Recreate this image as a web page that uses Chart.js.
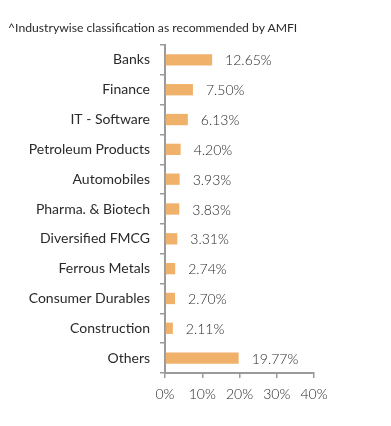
<!DOCTYPE html>
<html>
<head>
<meta charset="utf-8">
<script src="https://cdn.jsdelivr.net/npm/chart.js@4.4.1/dist/chart.umd.min.js"></script>
<style>
  html, body { margin: 0; padding: 0; background: #fff; }
  #wrap { position: relative; width: 391px; height: 426px; }
  #note {
    position: absolute; left: 8px; top: 20px;
    font: 12.2px Lato, sans-serif; color: #2a2a2a; white-space: nowrap;
  }
</style>
</head>
<body>
<div id="wrap">
  <div id="note">^Industrywise classification as recommended by AMFI</div>
  <canvas id="chart" width="391" height="426"></canvas>
</div>
<script>
// Sector weights (%)
const industries = [
  'Banks', 'Finance', 'IT - Software', 'Petroleum Products', 'Automobiles',
  'Pharma. & Biotech', 'Diversified FMCG', 'Ferrous Metals',
  'Consumer Durables', 'Construction', 'Others'
];
const weights = [12.65, 7.50, 6.13, 4.20, 3.93, 3.83, 3.31, 2.74, 2.70, 2.11, 19.77];
const xTicks = [0, 10, 20, 30, 40];

const axisGrey = '#9a9a9a';
const textColor = '#2a2a2a';

// Percent labels just past the end of each bar
const valueLabels = {
  id: 'valueLabels',
  afterDatasetsDraw(chart) {
    const { ctx } = chart;
    const meta = chart.getDatasetMeta(0);
    ctx.save();
    ctx.font = '300 14px Lato, sans-serif';
    ctx.fillStyle = textColor;
    ctx.textBaseline = 'middle';
    meta.data.forEach((bar, i) => {
      ctx.fillText(weights[i].toFixed(2) + '%', bar.x + 13, bar.y + 1);
    });
    ctx.restore();
  }
};

new Chart(document.getElementById('chart'), {
  type: 'bar',
  plugins: [valueLabels],
  data: {
    labels: industries,
    datasets: [{
      data: weights,
      backgroundColor: '#f0b26b',
      borderWidth: 0,
      barPercentage: 0.38,
      categoryPercentage: 1,
    }],
  },
  options: {
    indexAxis: 'y',
    responsive: false,
    animation: false,
    layout: { padding: { top: 45, right: 77, bottom: 14, left: 0 } },
    plugins: { legend: { display: false }, tooltip: { enabled: false } },
    scales: {
      x: {
        min: 0, max: 40,
        afterBuildTicks: (scale) => { scale.ticks = xTicks.map(v => ({ value: v })); },
        afterFit: (scale) => { scale.height = 39; },
        grid: { drawOnChartArea: false, drawTicks: true, tickLength: 5, color: axisGrey, lineWidth: 1.5 },
        border: { color: axisGrey, width: 2 },
        ticks: {
          padding: 8,
          color: textColor,
          font: { family: 'Lato, sans-serif', size: 14, weight: '300' },
          maxRotation: 0,
          callback: (v) => v + '%',
        },
      },
      y: {
        afterFit: (scale) => { scale.width = 165; },
        grid: { drawOnChartArea: false, drawTicks: true, tickLength: 5, color: axisGrey, lineWidth: 1.5, offset: true },
        border: { color: axisGrey, width: 2 },
        ticks: {
          padding: 10,
          color: textColor,
          font: { family: 'Lato, sans-serif', size: 14 },
        },
      },
    },
  },
});
</script>
</body>
</html>
